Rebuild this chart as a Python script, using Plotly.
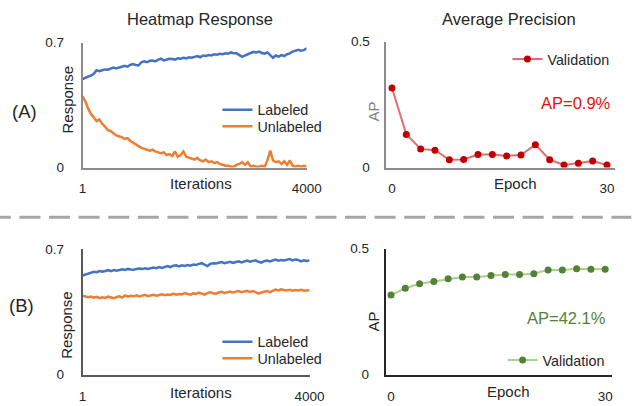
import numpy as np
import plotly.graph_objects as go

# ---------------- data ----------------
labeled_a = [0.495, 0.505, 0.51, 0.515, 0.525, 0.545, 0.54, 0.545, 0.55, 0.548, 0.555, 0.56, 0.555, 0.562,
             0.565, 0.57, 0.565, 0.575, 0.58, 0.575, 0.572, 0.59, 0.595, 0.59, 0.598, 0.6, 0.595, 0.605, 0.61,
             0.6, 0.605, 0.61, 0.608, 0.605, 0.612, 0.61, 0.615, 0.612, 0.618, 0.615, 0.62, 0.625, 0.618, 0.628,
             0.625, 0.63, 0.628, 0.635, 0.632, 0.638, 0.635, 0.64, 0.638, 0.645, 0.64, 0.64, 0.63, 0.62, 0.628,
             0.635, 0.64, 0.648, 0.645, 0.65, 0.642, 0.638, 0.645, 0.63, 0.615, 0.628, 0.622, 0.63, 0.625, 0.635,
             0.64, 0.65, 0.655, 0.66, 0.655, 0.658, 0.668]
unlabeled_a = [0.40, 0.37, 0.33, 0.30, 0.28, 0.26, 0.27, 0.245, 0.23, 0.21, 0.205, 0.19, 0.18, 0.175, 0.17,
               0.16, 0.165, 0.15, 0.14, 0.125, 0.12, 0.11, 0.105, 0.1, 0.095, 0.1, 0.09, 0.085, 0.08, 0.085,
               0.07, 0.075, 0.065, 0.09, 0.06, 0.07, 0.09, 0.06, 0.055, 0.05, 0.045, 0.055, 0.04, 0.035, 0.045,
               0.03, 0.035, 0.025, 0.03, 0.02, 0.015, 0.01, 0.01, 0.005, 0.005, 0.015, 0.02, 0.03, 0.015, 0.03,
               0.005, 0.01, 0.005, 0.005, 0.01, 0.005, 0.04, 0.095, 0.04, 0.03, 0.035, 0.02, 0.035, 0.015, 0.04,
               0.01, 0.005, 0.01, 0.005, 0.01, 0.002]
labeled_b = [0.553, 0.558, 0.562, 0.57, 0.574, 0.572, 0.578, 0.575, 0.58, 0.583, 0.578, 0.584, 0.58, 0.586,
             0.588, 0.584, 0.59, 0.587, 0.585, 0.59, 0.592, 0.589, 0.594, 0.59, 0.596, 0.598, 0.594, 0.6, 0.596,
             0.603, 0.606, 0.6, 0.608, 0.61, 0.604, 0.61, 0.607, 0.612, 0.608, 0.614, 0.612, 0.618, 0.622, 0.614,
             0.606, 0.618, 0.622, 0.62, 0.624, 0.628, 0.622, 0.626, 0.63, 0.624, 0.628, 0.632, 0.626, 0.63, 0.636,
             0.63, 0.634, 0.638, 0.63, 0.625, 0.633, 0.637, 0.632, 0.638, 0.642, 0.636, 0.64, 0.637, 0.641, 0.645,
             0.638, 0.643, 0.64, 0.632, 0.638, 0.634, 0.637]
unlabeled_b = [0.44, 0.438, 0.432, 0.436, 0.43, 0.434, 0.427, 0.432, 0.428, 0.435, 0.43, 0.426, 0.433, 0.437,
               0.43, 0.442, 0.435, 0.44, 0.437, 0.443, 0.436, 0.44, 0.445, 0.438, 0.442, 0.446, 0.44, 0.444, 0.448,
               0.443, 0.447, 0.445, 0.452, 0.446, 0.45, 0.448, 0.455, 0.45, 0.446, 0.454, 0.45, 0.458, 0.452, 0.446,
               0.455, 0.46, 0.454, 0.452, 0.458, 0.462, 0.456, 0.46, 0.464, 0.458, 0.462, 0.466, 0.46, 0.464, 0.468,
               0.462, 0.466, 0.46, 0.452, 0.458, 0.462, 0.466, 0.46, 0.468, 0.474, 0.47, 0.476, 0.472, 0.47, 0.474,
               0.468, 0.472, 0.47, 0.474, 0.468, 0.47, 0.472]
epochs = [0, 2, 4, 6, 8, 10, 12, 14, 16, 18, 20, 22, 24, 26, 28, 30]
ap_a = [0.316, 0.131, 0.074, 0.069, 0.031, 0.032, 0.052, 0.052, 0.046, 0.050, 0.091, 0.031, 0.010, 0.017,
        0.026, 0.010]
ap_b = [0.316, 0.343, 0.361, 0.370, 0.381, 0.388, 0.388, 0.394, 0.398, 0.398, 0.401, 0.416, 0.416, 0.420,
        0.418, 0.418]
iter_ticks = [1, 4000]
epoch_ticks = [0, 30]
resp_ticks = [0, 0.7]
ap_ticks = [0, 0.5]

W, H = 634, 406
FONT = "Arial, Liberation Sans, sans-serif"
TXT = "#262626"
BLUE, ORANGE = "#4472C4", "#ED7D31"

iters_a = np.linspace(1, 4000, len(labeled_a))
iters_b = np.linspace(1, 4000, len(labeled_b))


def px(x):
    return x / W


def py(y):
    return 1 - y / H


fig = go.Figure()
fig.add_trace(go.Scatter(x=iters_a, y=labeled_a, name="Labeled", mode="lines",
                         line=dict(color=BLUE, width=2.5), xaxis="x", yaxis="y", legend="legend"))
fig.add_trace(go.Scatter(x=iters_a, y=unlabeled_a, name="Unlabeled", mode="lines",
                         line=dict(color=ORANGE, width=2.5), xaxis="x", yaxis="y", legend="legend5"))
fig.add_trace(go.Scatter(x=epochs, y=ap_a, name="Validation", mode="lines+markers",
                         line=dict(color="#E46B6B", width=2), marker=dict(color="#C00000", size=7),
                         xaxis="x2", yaxis="y2", legend="legend2"))
fig.add_trace(go.Scatter(x=iters_b, y=labeled_b, name="Labeled", mode="lines",
                         line=dict(color=BLUE, width=2.5), xaxis="x3", yaxis="y3", legend="legend3"))
fig.add_trace(go.Scatter(x=iters_b, y=unlabeled_b, name="Unlabeled", mode="lines",
                         line=dict(color=ORANGE, width=2.5), xaxis="x3", yaxis="y3", legend="legend6"))
fig.add_trace(go.Scatter(x=epochs, y=ap_b, name="Validation", mode="lines+markers",
                         line=dict(color="#A9D18E", width=2), marker=dict(color="#538135", size=7),
                         xaxis="x4", yaxis="y4", legend="legend4"))


def xax(domain, rng, ticks, anchor, linecolor):
    return dict(domain=domain, range=rng, tickvals=ticks, ticktext=[str(t) for t in ticks],
                showgrid=False, zeroline=False, showline=True, linecolor=linecolor, linewidth=1.5,
                ticks="", ticklabelstandoff=8, tickfont=dict(size=13.5, color=TXT, family=FONT),
                anchor=anchor, fixedrange=True)


def yax(domain, rng, ticks, anchor, linecolor, standoff):
    return dict(domain=domain, range=rng, tickvals=ticks, ticktext=[str(t) for t in ticks],
                showgrid=True, gridcolor="#D9D9D9", gridwidth=1, zeroline=False, showline=True,
                linecolor=linecolor, linewidth=1.5, ticks="", ticklabelstandoff=standoff,
                tickfont=dict(size=13.5, color=TXT, family=FONT), anchor=anchor, fixedrange=True)


def leg(x, y):
    return dict(x=px(x), y=py(y), xanchor="left", yanchor="middle", bgcolor="rgba(0,0,0,0)",
                font=dict(size=14.3, color=TXT, family=FONT), tracegroupgap=0)


annotations = []


def txt(text, x, y, size, color=TXT, xanchor="center", angle=0):
    annotations.append(dict(text=text, x=px(x), y=py(y), xref="paper", yref="paper", showarrow=False,
                            xanchor=xanchor, yanchor="middle", textangle=angle,
                            font=dict(size=size, color=color, family=FONT)))


txt("Heatmap Response", 202.5, 12, 16.5)
txt("Average Precision", 521, 12, 16.5)
txt("Iterations", 203, 183, 15)
txt("Epoch", 527, 183, 15)
txt("Iterations", 203, 400, 15)
txt("Epoch", 520, 399, 15)
txt("Response", 65, 96, 15, angle=-90)
txt("Response", 65, 330, 15, angle=-90)
txt("AP", 381, 109, 15, color="#808080", angle=-90)
txt("AP", 381, 327, 15, angle=-90)
txt("(A)", 21, 108, 18.5)
txt("(B)", 18.5, 310, 18.5)
txt("AP=0.9%", 628, 100, 16.5, color="#E3120B", xanchor="right")
txt("AP=42.1%", 623, 323, 16.5, color="#548235", xanchor="right")

fig.update_layout(
    width=W, height=H, margin=dict(l=0, r=0, t=0, b=0),
    paper_bgcolor="white", plot_bgcolor="white",
    font=dict(family=FONT, color=TXT),
    xaxis=xax([px(81), px(312)], [1, 4000], iter_ticks, "y", "#8C8C8C"),
    yaxis=yax([py(166.7), py(37)], [0, 0.7], resp_ticks, "x", "#8C8C8C", 14),
    xaxis2=xax([px(394), px(630)], [-0.81, 31.13], epoch_ticks, "y2", "#8C8C8C"),
    yaxis2=yax([py(166.7), py(36)], [0, 0.5], ap_ticks, "x2", "#8C8C8C", 12),
    xaxis3=xax([px(81), px(315)], [1, 4000], iter_ticks, "y3", "#595959"),
    yaxis3=yax([py(381.7), py(251.5)], [0, 0.7], resp_ticks, "x3", "#595959", 14),
    xaxis4=xax([px(393.3), px(626.7)], [-0.77, 30.94], epoch_ticks, "y4", "#262626"),
    yaxis4=yax([py(381.7), py(251)], [0, 0.5], ap_ticks, "x4", "#262626", 12),
    legend=leg(220, 107),
    legend5=leg(220, 124),
    legend2=leg(519, 54.3),
    legend3=leg(220, 347.7),
    legend6=leg(220, 365),
    legend4=leg(514, 366.7),
    showlegend=True,
    annotations=annotations,
    shapes=[dict(type="line", xref="paper", yref="paper", x0=px(-14.6), x1=1.02, y0=py(218.3), y1=py(218.3),
                 line=dict(color="#A6A6A6", width=3, dash="21px,8.6px"))],
    hovermode=False,
)

fig.write_html("out.html", config={"displayModeBar": False},
               post_script="document.body.style.margin='0';document.documentElement.style.overflow='hidden';")
